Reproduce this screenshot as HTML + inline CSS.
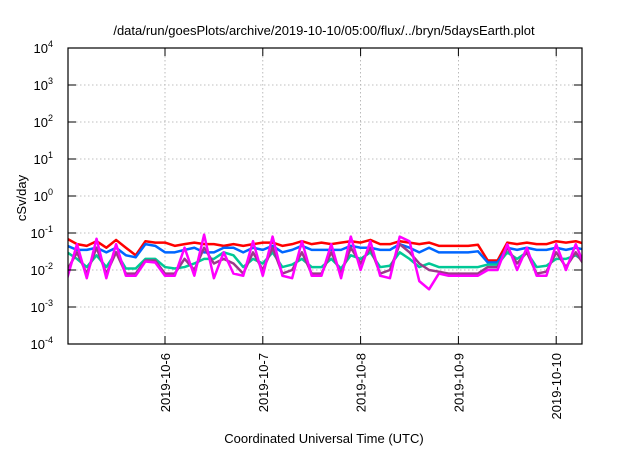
<!DOCTYPE html>
<html><head><meta charset="utf-8"><style>
body{margin:0;background:#fff;}
svg text{font-family:"Liberation Sans",sans-serif;fill:#000;}
</style></head><body>
<svg id="chart" width="640" height="448" viewBox="0 0 640 448">
<defs><clipPath id="pc"><rect x="68" y="48" width="514" height="296"/></clipPath></defs>
<text x="324" y="35" font-size="13" text-anchor="middle">/data/run/goesPlots/archive/2019-10-10/05:00/flux/../bryn/5daysEarth.plot</text>
<g id="grid"></g>
<g id="series" clip-path="url(#pc)"></g>
<rect x="68" y="48" width="514" height="296" fill="none" stroke="#000" stroke-width="1.2"/>
<g id="axes"></g>
<text transform="translate(26,198) rotate(-90)" font-size="13" text-anchor="middle">cSv/day</text>
<text x="324" y="443" font-size="13" text-anchor="middle">Coordinated Universal Time (UTC)</text>
</svg>
<script>
const exponents=[4,3,2,1,0,-1,-2,-3,-4];
const dayTicks=[1,2,3,4,5];
const dayLabels=["2019-10-6","2019-10-7","2019-10-8","2019-10-9","2019-10-10"];
const times=[0,0.1,0.2,0.3,0.4,0.5,0.6,0.7,0.8,0.9,1.0,1.1,1.2,1.3,1.4,1.5,1.6,1.7,1.8,1.9,2.0,2.1,2.2,2.3,2.4,2.5,2.6,2.7,2.8,2.9,3.0,3.1,3.2,3.3,3.4,3.5,3.6,3.7,3.8,3.9,4.0,4.1,4.2,4.3,4.4,4.5,4.6,4.7,4.8,4.9,5.0,5.1,5.2,5.3];
const red=[.07,.05,.045,.06,.04,.065,.04,.025,.06,.055,.055,.045,.05,.055,.05,.05,.045,.05,.045,.05,.055,.055,.045,.05,.06,.05,.055,.05,.055,.06,.055,.065,.05,.05,.06,.055,.05,.055,.045,.045,.045,.045,.048,.018,.018,.055,.05,.055,.05,.05,.06,.055,.06,.05];
const blue=[.045,.035,.035,.04,.03,.04,.025,.022,.05,.045,.03,.03,.035,.04,.03,.03,.04,.04,.03,.04,.035,.045,.03,.035,.045,.035,.035,.035,.035,.045,.04,.04,.035,.035,.05,.04,.03,.04,.03,.03,.03,.03,.032,.016,.016,.04,.035,.04,.035,.035,.04,.035,.04,.035];
const teal=[.03,.02,.012,.025,.012,.03,.011,.011,.02,.02,.012,.011,.012,.015,.02,.02,.03,.025,.012,.02,.015,.03,.012,.014,.02,.012,.012,.02,.011,.025,.02,.03,.012,.013,.03,.02,.012,.015,.012,.012,.012,.012,.012,.014,.014,.03,.02,.03,.012,.013,.02,.02,.025,.016];
const purple=[.01,.03,.008,.04,.008,.03,.008,.008,.018,.018,.008,.008,.02,.01,.04,.015,.02,.015,.008,.03,.01,.04,.008,.01,.03,.008,.008,.03,.008,.04,.015,.04,.008,.01,.05,.03,.015,.01,.009,.008,.008,.008,.008,.012,.012,.04,.015,.03,.008,.009,.03,.012,.03,.012];
const magenta=[.006,.05,.006,.07,.006,.05,.007,.007,.017,.016,.007,.007,.04,.007,.09,.006,.03,.008,.007,.06,.007,.08,.007,.006,.06,.007,.007,.05,.006,.08,.01,.06,.007,.006,.08,.06,.005,.003,.008,.007,.007,.007,.007,.01,.01,.05,.01,.04,.007,.007,.05,.01,.05,.011];
const NS="http://www.w3.org/2000/svg";
const X0=68,X1=582,Y0=48,Y1=344;
function xs(d){return 165+(d-1)*97.8;}
function ys(v){return Y0+(4-Math.log10(v))*(Y1-Y0)/8;}
function ye(e){return Y0+(4-e)*(Y1-Y0)/8;}
function mk(tag,attrs,parent){const el=document.createElementNS(NS,tag);for(const k in attrs)el.setAttribute(k,attrs[k]);parent.appendChild(el);return el;}
const grid=document.getElementById('grid'),axes=document.getElementById('axes'),ser=document.getElementById('series');
exponents.forEach(e=>{
  const y=ye(e);
  if(e<4&&e>-4){const g=mk('line',{x1:X0,x2:X1,y1:y,y2:y,stroke:'#aaa','stroke-width':0.8,'stroke-dasharray':'1.5,2.5'},grid);
  
  }
  mk('line',{x1:X0,x2:X0+8,y1:y,y2:y,stroke:'#000'},axes);
  mk('line',{x1:X1-8,x2:X1,y1:y,y2:y,stroke:'#000'},axes);
  const t=mk('text',{x:53,y:y+5,'font-size':13,'text-anchor':'end'},axes);
  
  
  t.textContent='10';
  const s=mk('tspan',{'font-size':9,dy:-6},t);s.textContent=String(e);
});
dayTicks.forEach((d,i)=>{
  const x=xs(d);
  const g=mk('line',{x1:x,x2:x,y1:Y0,y2:Y1,stroke:'#aaa','stroke-width':0.8,'stroke-dasharray':'1.5,2.5'},grid);
  
  
  mk('line',{x1:x,x2:x,y1:Y1-8,y2:Y1,stroke:'#000'},axes);
  mk('line',{x1:x,x2:x,y1:Y0,y2:Y0+8,stroke:'#000'},axes);
  const t=mk('text',{transform:`translate(${x+5},353) rotate(-90)`,'font-size':13,'text-anchor':'end'},axes);
  
  
  t.textContent=dayLabels[i];
});
const list=[[red,'#ff0000','series-red'],[blue,'#0066ff','series-blue'],[teal,'#00c896','series-teal'],[purple,'#9b3a8a','series-purple'],[magenta,'#ff00ff','series-magenta']];
list.forEach(([arr,c,n])=>{
  const p=mk('polyline',{points:arr.map((v,i)=>xs(times[i])+','+ys(v)).join(' '),fill:'none',stroke:c,'stroke-width':2.5,'stroke-linejoin':'round'},ser);
  
  
});
</script>
</body></html>
